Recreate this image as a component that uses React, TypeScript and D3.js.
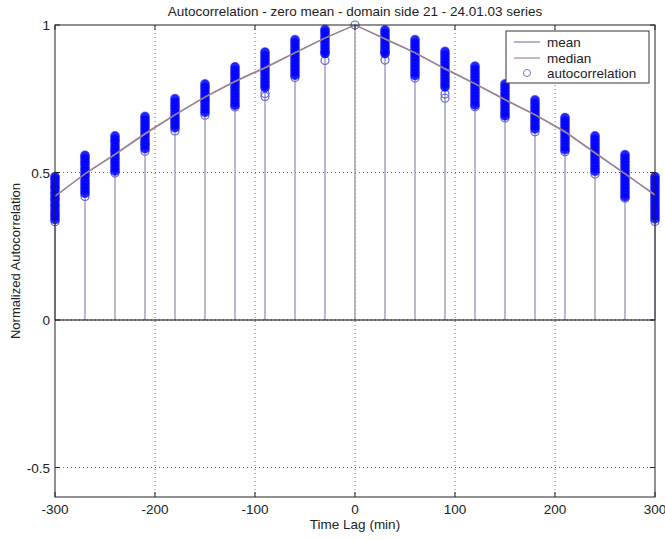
import * as d3 from "d3";

const lags = [-300, -270, -240, -210, -180, -150, -120, -90, -60, -30, 0, 30, 60, 90, 120, 150, 180, 210, 240, 270, 300];

// autocorrelation values per lag, one list for every lag in `lags`
const acByLag = [
  [0.486, 0.477, 0.466, 0.455, 0.447, 0.434, 0.425, 0.414, 0.406, 0.393, 0.384, 0.372, 0.361, 0.352, 0.341, 0.333],
  [0.558, 0.548, 0.537, 0.528, 0.516, 0.507, 0.496, 0.487, 0.474, 0.463, 0.452, 0.441, 0.43, 0.419],
  [0.624, 0.613, 0.603, 0.591, 0.58, 0.571, 0.559, 0.548, 0.537, 0.526, 0.515, 0.505, 0.498],
  [0.69, 0.679, 0.668, 0.657, 0.646, 0.634, 0.624, 0.612, 0.601, 0.592, 0.581, 0.572],
  [0.75, 0.739, 0.728, 0.718, 0.706, 0.695, 0.684, 0.674, 0.663, 0.652, 0.641],
  [0.8, 0.79, 0.78, 0.769, 0.758, 0.747, 0.737, 0.726, 0.715, 0.704, 0.694],
  [0.858, 0.847, 0.836, 0.825, 0.813, 0.803, 0.792, 0.781, 0.77, 0.76, 0.749, 0.738, 0.728, 0.722],
  [0.908, 0.897, 0.886, 0.875, 0.864, 0.853, 0.842, 0.831, 0.82, 0.809, 0.798, 0.788, 0.768, 0.758],
  [0.95, 0.94, 0.929, 0.918, 0.907, 0.896, 0.885, 0.874, 0.863, 0.852, 0.841, 0.83, 0.822],
  [0.985, 0.976, 0.966, 0.955, 0.944, 0.933, 0.922, 0.911, 0.903, 0.88],
  [1],
  [0.983, 0.973, 0.962, 0.952, 0.941, 0.93, 0.92, 0.91, 0.903, 0.881],
  [0.95, 0.939, 0.928, 0.917, 0.906, 0.895, 0.884, 0.873, 0.862, 0.851, 0.84, 0.829, 0.82],
  [0.91, 0.899, 0.888, 0.877, 0.866, 0.855, 0.844, 0.833, 0.822, 0.811, 0.8, 0.79, 0.766, 0.752],
  [0.86, 0.849, 0.838, 0.827, 0.816, 0.805, 0.794, 0.783, 0.772, 0.761, 0.75, 0.739, 0.729, 0.723],
  [0.8, 0.789, 0.778, 0.767, 0.757, 0.746, 0.735, 0.724, 0.713, 0.702, 0.692, 0.685],
  [0.746, 0.735, 0.724, 0.713, 0.702, 0.691, 0.68, 0.669, 0.658, 0.648, 0.638],
  [0.686, 0.675, 0.664, 0.653, 0.642, 0.631, 0.62, 0.609, 0.598, 0.587, 0.577, 0.57],
  [0.624, 0.613, 0.602, 0.591, 0.58, 0.569, 0.558, 0.547, 0.536, 0.525, 0.514, 0.504, 0.495],
  [0.56, 0.549, 0.538, 0.527, 0.516, 0.505, 0.494, 0.483, 0.472, 0.461, 0.45, 0.439, 0.428, 0.418, 0.413],
  [0.486, 0.475, 0.464, 0.453, 0.442, 0.431, 0.42, 0.409, 0.398, 0.387, 0.376, 0.365, 0.354, 0.343, 0.334],
];

const meanAc = [0.42, 0.495, 0.56, 0.63, 0.695, 0.755, 0.808, 0.854, 0.905, 0.955, 1, 0.952, 0.905, 0.85, 0.8, 0.746, 0.695, 0.637, 0.565, 0.495, 0.425];
const medianAc = [0.418, 0.497, 0.563, 0.633, 0.697, 0.757, 0.81, 0.857, 0.907, 0.957, 1, 0.954, 0.907, 0.853, 0.802, 0.748, 0.697, 0.64, 0.568, 0.497, 0.422];

const xTicks = [-300, -200, -100, 0, 100, 200, 300];
const yTicks = [-0.5, 0, 0.5, 1];

const title = "Autocorrelation - zero mean - domain side 21 - 24.01.03 series";
const font = "'Liberation Sans', Arial, sans-serif";

export default function App() {
  const width = 665;
  const height = 540;
  const left = 55;
  const right = 655;
  const top = 25;
  const bottom = 497;

  const x = d3.scaleLinear().domain([-300, 300]).range([left, right]);
  const y = d3.scaleLinear().domain([-0.6, 1]).range([bottom, top]);

  const line = d3
    .line<number>()
    .x((_, i) => x(lags[i]))
    .y((d) => y(d));

  // circles packed close together read as a solid bar; the lowest one and the
  // ones standing apart show as plain rings
  const points = acByLag.flatMap((vals, i) =>
    vals.map((v, j) => {
      const above = j > 0 ? vals[j - 1] : null;
      const isolated = above === null ? vals.length === 1 : above - v > 0.015;
      const lowest = j === vals.length - 1;
      return { lag: lags[i], v, ring: isolated || lowest };
    })
  );
  const dense = points.filter((p) => !p.ring);
  const rings = points.filter((p) => p.ring);

  return (
    <svg
      width={width}
      height={height}
      style={{ position: "absolute", left: 0, top: 0, background: "#fff" }}
      fontFamily={font}
    >
      <rect x={0} y={0} width={width} height={height} fill="#fff" />

      {/* grid */}
      <g stroke="#444" strokeWidth={0.8} strokeDasharray="1,3">
        {xTicks.slice(1, -1).map((t) => (
          <line key={"gx" + t} x1={x(t)} x2={x(t)} y1={top} y2={bottom} />
        ))}
        {yTicks.slice(0, -1).map((t) => (
          <line key={"gy" + t} x1={left} x2={right} y1={y(t)} y2={y(t)} />
        ))}
      </g>

      {/* stems, one per lag up to the highest value */}
      <g stroke="#9494b8" strokeWidth={1.3}>
        {acByLag.map((vals, i) => (
          <line key={"s" + i} x1={x(lags[i])} x2={x(lags[i])} y1={y(0)} y2={y(d3.max(vals) ?? 0)} />
        ))}
      </g>

      {/* baseline */}
      <line x1={left} x2={right} y1={y(0)} y2={y(0)} stroke="#000" strokeWidth={1.2} />

      {/* markers */}
      <g fill="none" stroke="#6464d8" strokeWidth={1.2}>
        {rings.map((p, i) => (
          <circle key={"o" + i} cx={x(p.lag)} cy={y(p.v)} r={4} />
        ))}
      </g>
      <g fill="#0000ff" fillOpacity={0.85} stroke="#1010ff" strokeWidth={1.3} strokeOpacity={0.6}>
        {dense.map((p, i) => (
          <circle key={"c" + i} cx={x(p.lag)} cy={y(p.v)} r={4.3} />
        ))}
      </g>

      <path d={line(meanAc) ?? ""} fill="none" stroke="#8c8cb4" strokeWidth={1.3} />
      <path d={line(medianAc) ?? ""} fill="none" stroke="#a27c80" strokeWidth={1.1} />

      {/* axes box and ticks */}
      <rect x={left} y={top} width={right - left} height={bottom - top} fill="none" stroke="#222" strokeWidth={1} />
      <g stroke="#222" strokeWidth={1}>
        {xTicks.map((t) => (
          <g key={"tx" + t}>
            <line x1={x(t)} x2={x(t)} y1={bottom} y2={bottom - 5} />
            <line x1={x(t)} x2={x(t)} y1={top} y2={top + 5} />
          </g>
        ))}
        {yTicks.map((t) => (
          <g key={"ty" + t}>
            <line x1={left} x2={left + 5} y1={y(t)} y2={y(t)} />
            <line x1={right} x2={right - 5} y1={y(t)} y2={y(t)} />
          </g>
        ))}
      </g>

      <g fontSize={13.5} fill="#222">
        {xTicks.map((t) => (
          <text key={"lx" + t} x={x(t)} y={bottom + 17} textAnchor="middle">
            {t}
          </text>
        ))}
        {yTicks.map((t) => (
          <text key={"ly" + t} x={left - 5} y={y(t) + 5} textAnchor="end">
            {t}
          </text>
        ))}
        <text x={(left + right) / 2} y={16} textAnchor="middle">
          {title}
        </text>
        <text x={(left + right) / 2} y={529} textAnchor="middle">
          Time Lag (min)
        </text>
        <text transform={`translate(20,${(top + bottom) / 2}) rotate(-90)`} textAnchor="middle" fontSize={13}>
          Normalized Autocorrelation
        </text>
      </g>

      {/* legend */}
      <g fontSize={13.5} fill="#222">
        <rect x={506} y={31} width={143} height={52} fill="#fff" stroke="#333" strokeWidth={1} />
        <line x1={514} x2={540} y1={42} y2={42} stroke="#8c8cb4" strokeWidth={1.3} />
        <text x={547} y={46.5}>mean</text>
        <line x1={514} x2={540} y1={58} y2={58} stroke="#a27c80" strokeWidth={1.1} />
        <text x={547} y={62.5}>median</text>
        <circle cx={527} cy={73} r={3.5} fill="none" stroke="#7a7ac8" strokeWidth={1} />
        <text x={547} y={78}>autocorrelation</text>
      </g>
    </svg>
  );
}
